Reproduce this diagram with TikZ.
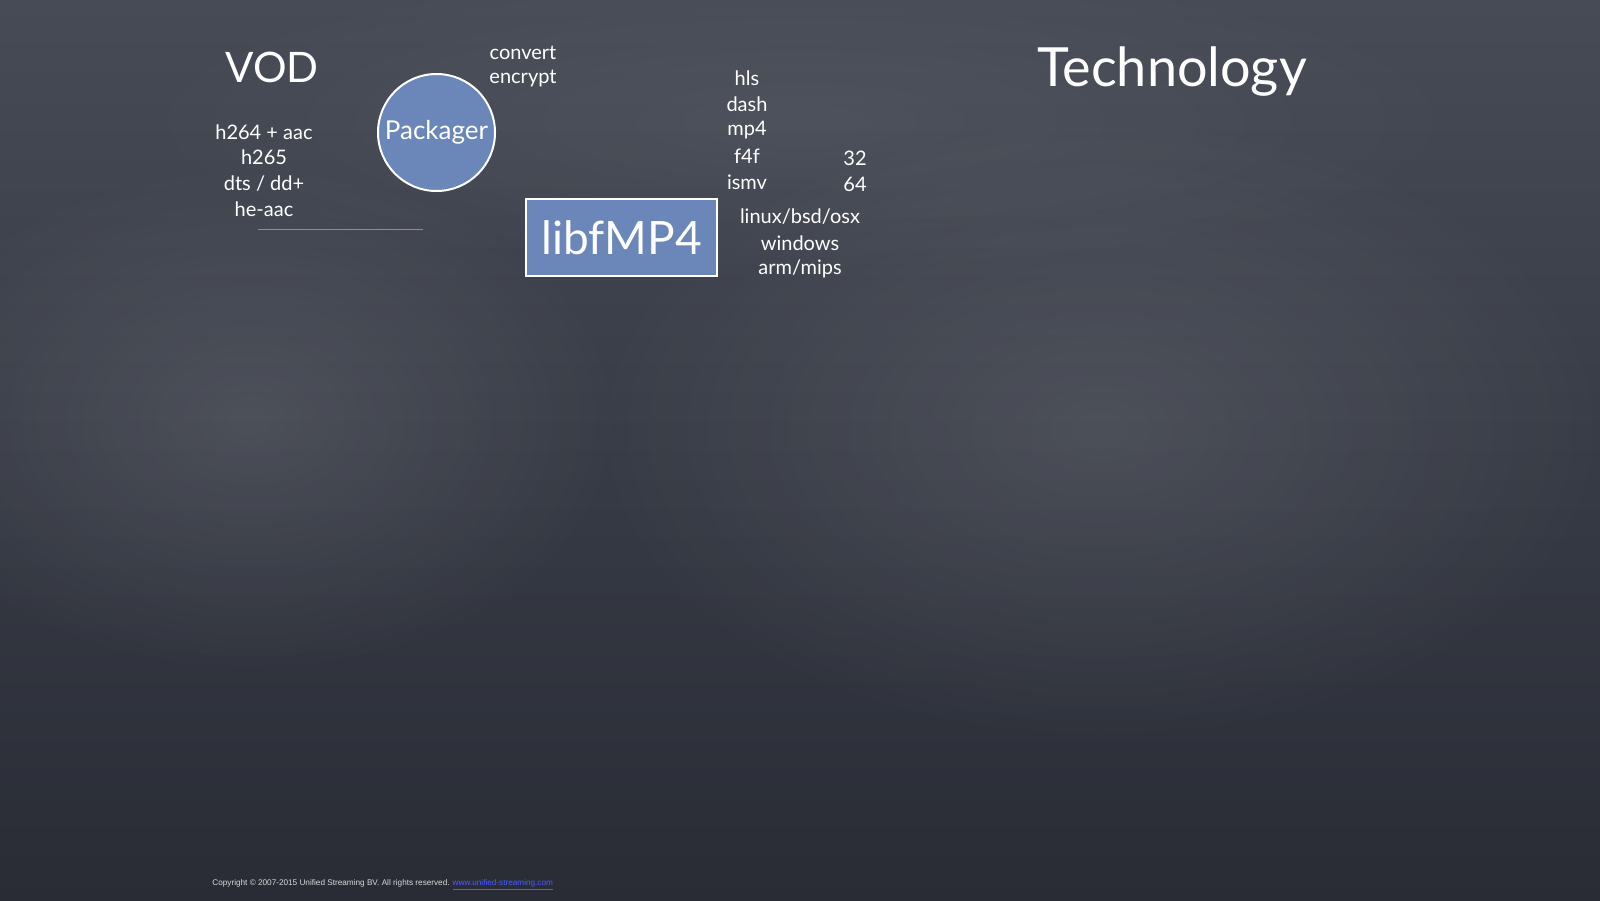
\documentclass[tikz,border=0pt]{standalone}
\usepackage{fontspec}
\setmainfont{Lato}
\newfontfamily\footfont{Liberation Sans}
\usetikzlibrary{fadings}
\tikzfading[name=soft spot, inner color=transparent!0, outer color=transparent!100]
\definecolor{boardtop}{HTML}{464B56}
\definecolor{boardbot}{HTML}{292C35}
\definecolor{chalkblue}{HTML}{6B86B9}
\definecolor{rulegray}{HTML}{8A8E96}
\definecolor{linkblue}{HTML}{4A5CFF}
\tikzset{
  chalk/.style={text=white, inner sep=0pt, anchor=center},
  listtext/.style={chalk, font=\fontsize{10}{12}\selectfont},
  bluepad/.style={fill=chalkblue, draw=white, line width=1pt},
  smudge/.style={white, path fading=soft spot, opacity=0.10},
}
\begin{document}
\begin{tikzpicture}[x=0.5pt, y=-0.5pt]
  \useasboundingbox (0,0) rectangle (1600,900);
  % chalkboard background
  \begin{scope}
    \clip (0,0) rectangle (1600,900);
    \shade[top color=boardtop, bottom color=boardbot] (0,0) rectangle (1600,900);
    \fill[smudge] (1100,430) ellipse (520 and 320);
    \fill[smudge] (250,420) ellipse (380 and 260);
    \fill[smudge, opacity=0.06] (800,120) ellipse (700 and 160);
  \end{scope}

  % headings
  \node[chalk, anchor=base, font=\fontsize{21}{24}\selectfont] (vod) at (272,82) {VOD};
  \node[chalk, anchor=base, font=\fontsize{27}{30}\selectfont] (tech) at (1172,86) {Technology};

  % codecs
  \node[listtext] (c1) at (264,132) {h264 + aac};
  \node[listtext] (c2) at (264,157) {h265};
  \node[listtext] (c3) at (264,184) {dts / dd+};
  \node[listtext] (c4) at (264,209) {he-aac};
  \coordinate (ruleA) at (258,229);
  \coordinate (ruleB) at (423,229);
  \draw[rulegray, line width=0.4pt] (ruleA) -- (ruleB);

  % packager
  \node[bluepad, circle, minimum size=58.5pt, inner sep=0pt, text=white,
        font=\fontsize{13}{15}\selectfont] (pkg) at (436.5,132.5) {Packager};
  \node[listtext] (conv) at (523,53) {convert};
  \node[listtext] (enc) at (523,79) {encrypt};

  % library
  \node[bluepad, rectangle, minimum width=95.5pt, minimum height=38.5pt, text=white,
        font=\fontsize{23}{26}\selectfont] (lib) at (621.5,237.5) {libfMP4};

  % output formats
  \node[listtext] (f1) at (747,78) {hls};
  \node[listtext] (f2) at (747,104) {dash};
  \node[listtext] (f3) at (747,130) {mp4};
  \node[listtext] (f4) at (747,156) {f4f};
  \node[listtext] (f5) at (747,182) {ismv};

  % word sizes
  \node[listtext] (b32) at (855,158) {32};
  \node[listtext] (b64) at (855,184) {64};

  % platforms
  \node[listtext] (p1) at (800,217) {linux/bsd/osx};
  \node[listtext] (p2) at (800,243) {windows};
  \node[listtext] (p3) at (800,269) {arm/mips};

  % footer
  \node[anchor=west, inner sep=0pt, font=\footfont\fontsize{4.1}{5}\selectfont, text=white!85!black]
    (copy) at (212,885) {Copyright \textcopyright{} 2007-2015 Unified Streaming BV. All rights reserved. \textcolor{linkblue}{\underline{www.unified-streaming.com}}};
\end{tikzpicture}
\end{document}
